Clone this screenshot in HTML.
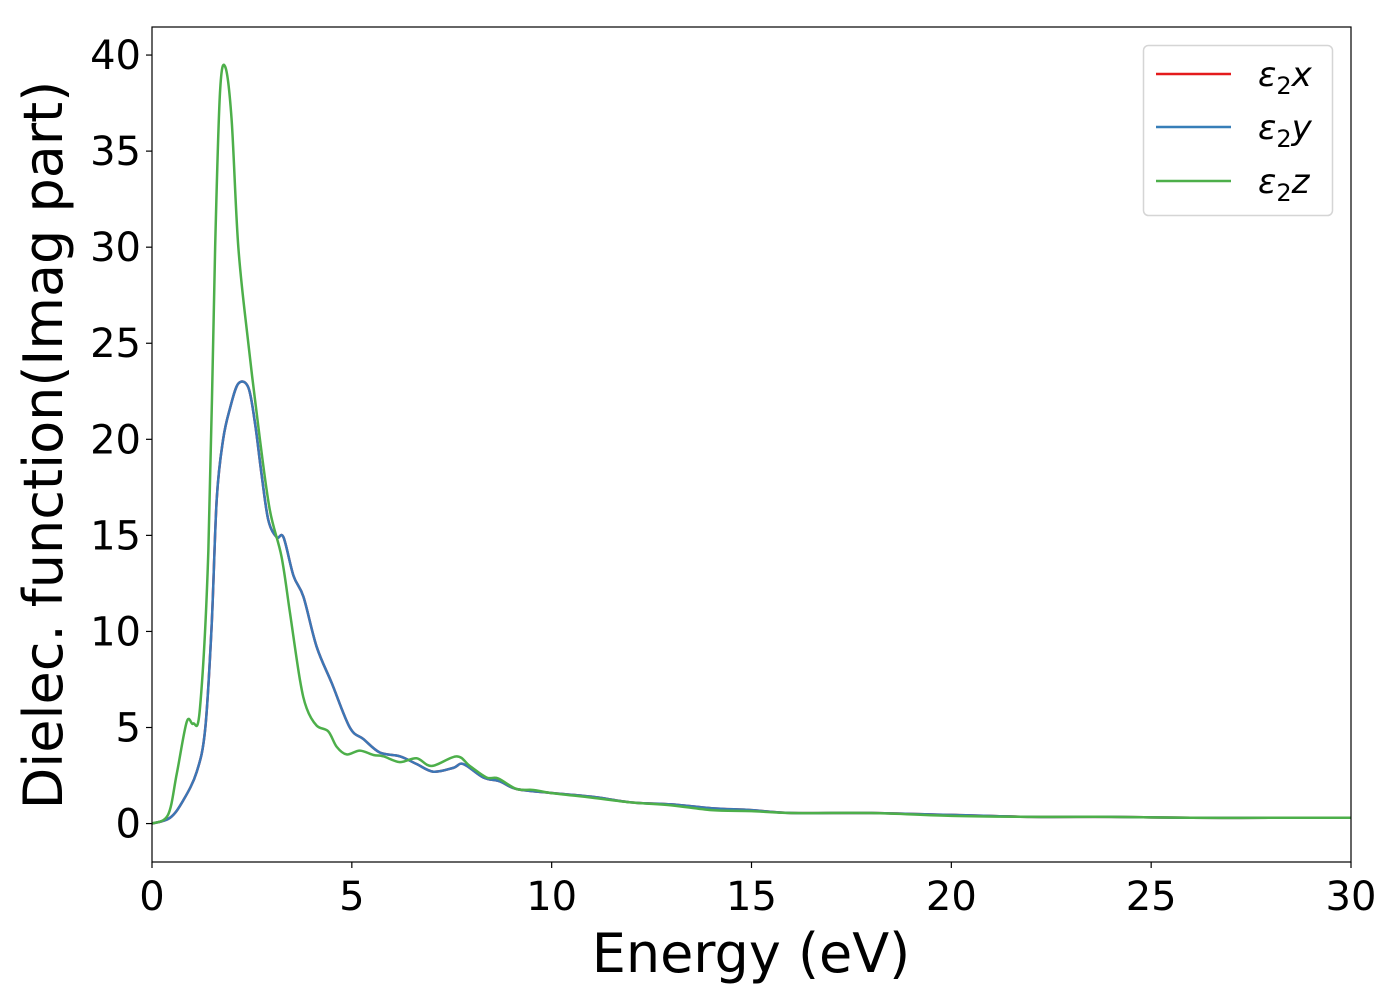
<!DOCTYPE html>
<html><head><meta charset="utf-8">
<style>
html,body{margin:0;padding:0;background:#fff;}
svg text{font-family:"DejaVu Sans","Liberation Sans",sans-serif;fill:#000;}
</style></head>
<body>
<svg id="chart" width="1400" height="1000" viewBox="0 0 1400 1000" xmlns="http://www.w3.org/2000/svg">
<rect width="1400" height="1000" fill="#fff"/>
<g id="plot"></g>
<g id="axes"></g>
<text x="751" y="972" font-size="54" text-anchor="middle">Energy (eV)</text>
<text transform="translate(62,445) rotate(-90)" font-size="54" text-anchor="middle">Dielec. function(Imag part)</text>
<g>
<rect x="1143.5" y="45.5" width="189" height="170" rx="5" fill="#fff" stroke="#d5d5d5" stroke-width="1.5"/>
<g><line x1="1156" y1="74" x2="1231" y2="74" stroke="#e41a1c" stroke-width="2.5"/><text x="1258" y="86" font-size="34" font-style="italic">ε<tspan font-size="24" font-style="normal" dy="8">2</tspan><tspan dy="-8">x</tspan></text></g>
<g><line x1="1156" y1="127" x2="1231" y2="127" stroke="#377eb8" stroke-width="2.5"/><text x="1258" y="139" font-size="34" font-style="italic">ε<tspan font-size="24" font-style="normal" dy="8">2</tspan><tspan dy="-8">y</tspan></text></g>
<g><line x1="1156" y1="181" x2="1231" y2="181" stroke="#4daf4a" stroke-width="2.5"/><text x="1258" y="193" font-size="34" font-style="italic">ε<tspan font-size="24" font-style="normal" dy="8">2</tspan><tspan dy="-8">z</tspan></text></g>
</g>
</svg>
<script>
const xTicks = [0,5,10,15,20,25,30];
const yTicks = [0,5,10,15,20,25,30,35,40];
const energyXY = [0,0.45,0.78,1.12,1.33,1.49,1.62,1.78,1.95,2.16,2.41,2.58,2.74,2.91,3.12,3.29,3.54,3.79,4.12,4.5,4.95,5.29,5.7,6.2,6.62,7.04,7.54,7.79,8.29,8.7,9.12,9.96,11,12,13,14,15,16,18,20,22,24,26,28,30];
const eps2x = [0,0.3,1.2,2.7,4.9,10.2,16.9,20,21.6,22.9,22.7,20.8,18.2,15.8,14.9,14.9,12.9,11.8,9.2,7.3,5.0,4.4,3.7,3.5,3.1,2.7,2.9,3.1,2.4,2.2,1.8,1.6,1.4,1.1,1.0,0.8,0.7,0.55,0.55,0.45,0.35,0.35,0.3,0.3,0.3];
const eps2y = eps2x.slice();
const energyZ = [0,0.4,0.62,0.87,1.03,1.2,1.41,1.58,1.7,1.83,1.99,2.16,2.41,2.7,2.95,3.24,3.45,3.7,3.87,4.12,4.41,4.62,4.87,5.2,5.54,5.79,6.2,6.62,7.0,7.62,7.95,8.37,8.66,9.12,9.54,9.96,11,12,13,14,15,16,18,20,22,24,26,28,30];
const eps2z = [0,0.45,2.6,5.3,5.2,6.0,14.2,30,38,39.4,36.7,30,25,20,16.3,13.9,11,7.5,6.0,5.1,4.8,4.0,3.6,3.8,3.57,3.5,3.2,3.4,3.0,3.5,3.0,2.4,2.35,1.8,1.75,1.6,1.35,1.1,0.95,0.7,0.65,0.55,0.55,0.4,0.35,0.35,0.3,0.3,0.3];

const L=152,R=1351,T=27,B=862;
const xMin=0,xMax=30,yMin=-2,yMax=41.46;
const sx=v=>L+(v-xMin)/(xMax-xMin)*(R-L);
const sy=v=>B-(v-yMin)/(yMax-yMin)*(B-T);
const NS="http://www.w3.org/2000/svg";
function mk(tag,attrs){const e=document.createElementNS(NS,tag);for(const k in attrs)e.setAttribute(k,attrs[k]);return e;}
function pathFor(xs,ys){
  const p=xs.map((x,i)=>[sx(x),sy(ys[i])]);
  let d=`M${p[0][0]},${p[0][1]}`;
  for(let i=0;i<p.length-1;i++){
    const p0=p[Math.max(0,i-1)],p1=p[i],p2=p[i+1],p3=p[Math.min(p.length-1,i+2)];
    const c1=[p1[0]+(p2[0]-p0[0])/6,p1[1]+(p2[1]-p0[1])/6];
    const c2=[p2[0]-(p3[0]-p1[0])/6,p2[1]-(p3[1]-p1[1])/6];
    d+=` C${c1[0]},${c1[1]} ${c2[0]},${c2[1]} ${p2[0]},${p2[1]}`;
  }
  return d;
}
const plot=document.getElementById('plot');
const clip=mk('clipPath',{id:'clp'});clip.appendChild(mk('rect',{x:L,y:T,width:R-L,height:B-T}));plot.appendChild(clip);
const series=[[energyXY,eps2x,'#e41a1c','line-eps2x'],[energyXY,eps2y,'#3b77b6','line-eps2y'],[energyZ,eps2z,'#4daf4a','line-eps2z']];
for(const s of series){
  const el=mk('path',{d:pathFor(s[0],s[1]),fill:'none',stroke:s[2],'stroke-width':2.5,'clip-path':'url(#clp)','stroke-linejoin':'round'});
  
  
  plot.appendChild(el);
}
const axes=document.getElementById('axes');
const frame=mk('rect',{x:L,y:T,width:R-L,height:B-T,fill:'none',stroke:'#000','stroke-width':1.2});


axes.appendChild(frame);
for(const t of xTicks){
  const tk=mk('line',{x1:sx(t),x2:sx(t),y1:B,y2:B+6,stroke:'#000','stroke-width':1.2});
  
  
  axes.appendChild(tk);
  const tx=mk('text',{x:sx(t),y:B+48,'font-size':40,'text-anchor':'middle'});
  
  
  tx.textContent=t;axes.appendChild(tx);
}
for(const t of yTicks){
  const tk=mk('line',{x1:L-6,x2:L,y1:sy(t),y2:sy(t),stroke:'#000','stroke-width':1.2});
  
  
  axes.appendChild(tk);
  const tx=mk('text',{x:L-11,y:sy(t)+14,'font-size':40,'text-anchor':'end'});
  
  
  tx.textContent=t;axes.appendChild(tx);
}
</script>
</body></html>
